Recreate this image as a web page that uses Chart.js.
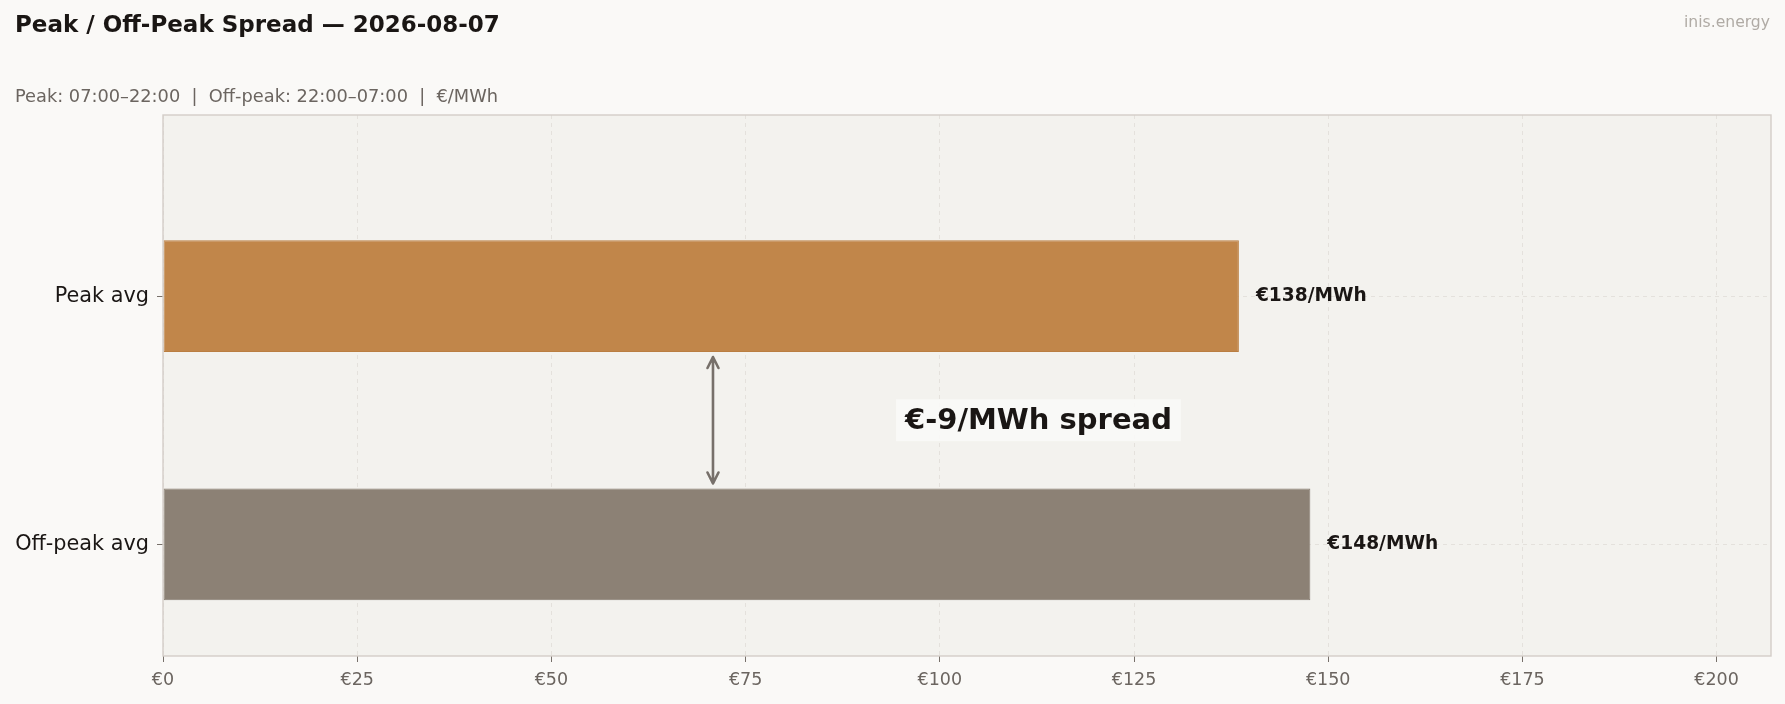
<!DOCTYPE html>
<html>
<head>
<meta charset="utf-8">
<script src="https://cdn.jsdelivr.net/npm/chart.js@4.4.1/dist/chart.umd.min.js"></script>
<style>
  html, body { margin: 0; padding: 0; background: #faf9f7; }
  body { width: 1785px; height: 704px; position: relative; overflow: hidden; font-family: "DejaVu Sans", sans-serif; }
  #wrap { position: absolute; left: 0; top: 0; width: 1785px; height: 704px; }
  .title { position: absolute; left: 15px; top: 11px; font-size: 23px; font-weight: bold; color: #1a1614; white-space: nowrap; }
  .subtitle { position: absolute; left: 15px; top: 85px; font-size: 17.8px; color: #6b6560; white-space: nowrap; }
  .brand { position: absolute; right: 15px; top: 13px; font-size: 15.6px; color: #b0aba5; white-space: nowrap; }
</style>
</head>
<body>
<div id="wrap"><canvas id="spreadChart"></canvas></div>
<div class="title">Peak / Off-Peak Spread — 2026-08-07</div>
<div class="subtitle">Peak: 07:00–22:00 &nbsp;|&nbsp; Off-peak: 22:00–07:00 &nbsp;|&nbsp; €/MWh</div>
<div class="brand">inis.energy</div>
<script>
// Data
const categories = ['Off-peak avg', 'Peak avg'];
const categoryPos = [0, 1];
const avgPrices = [147.7, 138.5];
const valueLabels = ['€148/MWh', '€138/MWh'];
const barColors = ['#8c8175', '#c1864a'];
const barEdges = ['#877c70', '#ba7e41'];
const xTicks = [0, 25, 50, 75, 100, 125, 150, 175, 200];
const spreadText = '€-9/MWh spread';
const spreadTextX = 112.7;
const spreadArrowX = 70.8;

const FONT = '"DejaVu Sans", sans-serif';

// Frame around the plot area
const framePlugin = {
    id: 'frame',
    beforeDraw(chart) {
        const { ctx, chartArea: a } = chart;
        ctx.save();
        ctx.fillStyle = '#f3f2ee';
        ctx.fillRect(a.left, a.top, a.right - a.left, a.bottom - a.top);
        ctx.restore();
    },
    afterDraw(chart) {
        const { ctx, chartArea: a } = chart;
        ctx.save();
        ctx.strokeStyle = '#d3cec8';
        ctx.lineWidth = 1.4;
        ctx.strokeRect(a.left, a.top, a.right - a.left, a.bottom - a.top);
        ctx.restore();
    }
};

// Value labels next to bars, plus spread arrow and text
const annotatePlugin = {
    id: 'annotate',
    afterDatasetsDraw(chart) {
        const { ctx, scales } = chart;
        const meta = chart.getDatasetMeta(0);
        ctx.save();
        ctx.font = 'bold 18.6px ' + FONT;
        ctx.fillStyle = '#1a1614';
        ctx.textBaseline = 'middle';
        ctx.textAlign = 'left';
        meta.data.forEach((bar, i) => {
            ctx.fillText(valueLabels[i], bar.x + 17, bar.y);
        });

        // double arrow between the bars
        const peak = meta.data[1], off = meta.data[0];
        const ax = scales.x.getPixelForValue(spreadArrowX);
        const y1 = peak.y + peak.height / 2 + 5;
        const y2 = off.y - off.height / 2 - 5;
        ctx.strokeStyle = '#77706a';
        ctx.lineWidth = 2.6;
        ctx.lineCap = 'round';
        ctx.lineJoin = 'round';
        ctx.beginPath();
        ctx.moveTo(ax, y1);
        ctx.lineTo(ax, y2);
        ctx.moveTo(ax - 5.5, y1 + 11);
        ctx.lineTo(ax, y1);
        ctx.lineTo(ax + 5.5, y1 + 11);
        ctx.moveTo(ax - 5.5, y2 - 11);
        ctx.lineTo(ax, y2);
        ctx.lineTo(ax + 5.5, y2 - 11);
        ctx.stroke();

        // spread text in a box
        const tx = scales.x.getPixelForValue(spreadTextX);
        const ty = scales.y.getPixelForValue(0.5);
        ctx.font = 'bold 29px ' + FONT;
        const w = ctx.measureText(spreadText).width;
        ctx.fillStyle = 'rgba(250, 249, 247, 0.9)';
        ctx.fillRect(tx - w / 2 - 9, ty - 21, w + 18, 42);
        ctx.fillStyle = '#1a1614';
        ctx.textAlign = 'center';
        ctx.fillText(spreadText, tx, ty + 1);
        ctx.restore();
    }
};

const ctx = document.getElementById('spreadChart').getContext('2d');
const spreadChart = new Chart(ctx, {
    type: 'bar',
    data: {
        datasets: [{
            data: categoryPos.map((y, i) => ({ x: avgPrices[i], y: y })),
            backgroundColor: barColors,
            borderColor: barEdges,
            borderWidth: 1,
            borderSkipped: false,
            barPercentage: 0.45,
            categoryPercentage: 1
        }]
    },
    options: {
        indexAxis: 'y',
        responsive: true,
        maintainAspectRatio: false,
        animation: false,
        layout: { padding: { left: 0, right: 14, top: 115, bottom: 0 } },
        plugins: {
            legend: { display: false },
            tooltip: { enabled: false }
        },
        scales: {
            x: {
                type: 'linear',
                min: 0,
                max: 207,
                afterBuildTicks: scale => { scale.ticks = xTicks.map(v => ({ value: v })); },
                afterFit: scale => { scale.height = 48; },
                ticks: {
                    callback: value => `€${value}`,
                    color: '#6b6560',
                    font: { family: FONT, size: 17.5 },
                    padding: 8,
                    maxRotation: 0
                },
                grid: {
                    color: '#e4e1dc',
                    lineWidth: 1,
                    drawTicks: true,
                    tickLength: 6,
                    tickColor: '#77706a',
                    tickWidth: 1
                },
                border: { display: false, dash: [4, 4] }
            },
            y: {
                type: 'linear',
                min: -0.45,
                max: 1.73,
                offset: false,
                afterBuildTicks: scale => { scale.ticks = categoryPos.map(v => ({ value: v })); },
                afterFit: scale => { scale.width = 163; },
                ticks: {
                    callback: value => categories[categoryPos.indexOf(value)] || '',
                    color: '#1a1614',
                    font: { family: FONT, size: 20.8 },
                    padding: 8
                },
                grid: {
                    offset: false,
                    color: '#e4e1dc',
                    lineWidth: 1,
                    tickLength: 6,
                    tickColor: '#77706a',
                    tickWidth: 1
                },
                border: { display: false, dash: [4, 4] }
            }
        }
    },
    plugins: [framePlugin, annotatePlugin]
});
</script>
</body>
</html>
